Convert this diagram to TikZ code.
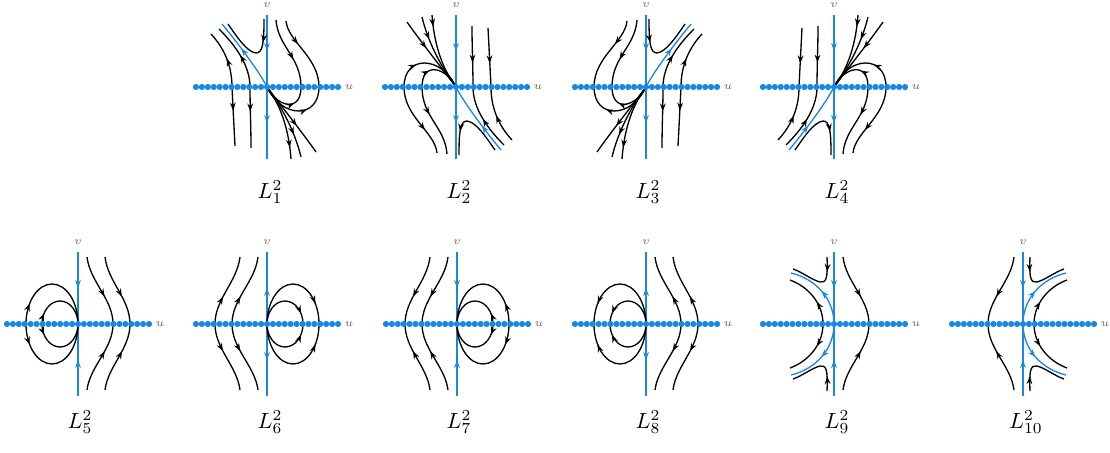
\documentclass[tikz,border=0pt]{standalone}
\usetikzlibrary{arrows.meta, decorations.markings}
\definecolor{flowblue}{RGB}{24,136,229}

% arrow put on a trajectory; \fliptips turns the flow round
\newcommand{\flowtip}{\arrow{Stealth[length=3.6pt, width=2.6pt]}}
\newcommand{\fliptips}{\renewcommand{\flowtip}{\arrowreversed{Stealth[length=3.6pt, width=2.6pt]}}}

\tikzset{
    orbit/.style={black, line width=0.6pt, decoration={markings, mark=at position #1 with {\flowtip}}, postaction={decorate}},
    orbit/.default=0.5,
    sep/.style={flowblue, line width=0.6pt, decoration={markings, mark=at position #1 with {\flowtip}}, postaction={decorate}},
    sep/.default=0.5,
    vaxis/.style={flowblue, line width=0.6pt, decoration={markings, mark=at position 0.5 with {\flowtip}}, postaction={decorate}},
    eqdot/.style={fill=flowblue},
    axislabel/.style={font=\tiny, text=black!60, inner sep=0},
    caption/.style={anchor=base, inner sep=0},
    }

% top row pattern (L_1^2)
\newcommand{\phaseone}{%
  \draw[vaxis] (0,72) -- (0,0);
  \draw[vaxis] (0,0) -- (0,-72);
  \draw[sep=0.6] (0,0) .. controls (-8,16) and (-30,45) .. (-45,63);
  \draw[orbit=0.3] (-3,68) .. controls (-3,45) and (-4,34) .. (-11,34) .. controls (-20,35) and (-30,50) .. (-39,63);
  \draw[orbit=0.5] (-35,0) .. controls (-35,20) and (-42,38) .. (-56,53);
  \draw[orbit=0.4] (-35,0) .. controls (-34,-20) and (-33,-40) .. (-32,-59);
  \draw[orbit=0.5] (-17,0) .. controls (-17,22) and (-32,42) .. (-48,58);
  \draw[orbit=0.4] (-17,0) .. controls (-17,-20) and (-16,-40) .. (-16,-61);
  \draw[orbit=0.6] (9,67) .. controls (11,40) and (34,30) .. (34,0);
  \draw[orbit=0.35] (19,66) .. controls (21,45) and (52,30) .. (52,0);
  \draw[orbit=0.65] (0,0) .. controls (10,-20) and (34,-26) .. (34,0);
  \draw[orbit=0.65] (0,0) .. controls (15,-32) and (52,-32) .. (52,0);
  \draw[orbit=0.85] (0,0) .. controls (15,-20) and (22,-45) .. (24,-72);
  \draw[orbit=0.7] (0,0) .. controls (15,-20) and (28,-45) .. (34,-70);
  \draw[orbit=0.6] (0,0) .. controls (15,-20) and (35,-45) .. (49,-65);
}

% bottom row, loops (L_5^2)
\newcommand{\phasefive}{%
  \draw[vaxis] (0,72) -- (0,0);
  \draw[vaxis] (0,-72) -- (0,0);
  \draw[orbit=0.2] (-52,0) arc[start angle=180, end angle=0, x radius=26, y radius=40];
  \draw[orbit=0.2] (-52,0) arc[start angle=180, end angle=360, x radius=26, y radius=40];
  \draw[orbit=0.17] (-36,0) arc[start angle=180, end angle=0, x radius=18, y radius=23];
  \draw[orbit=0.17] (-36,0) arc[start angle=180, end angle=360, x radius=18, y radius=23];
  \draw[orbit=0.6] (9,67) .. controls (12,42) and (35,25) .. (35,0);
  \draw[orbit=0.6] (9,-66) .. controls (12,-42) and (35,-25) .. (35,0);
  \draw[orbit=0.6] (27,67) .. controls (30,42) and (52,25) .. (52,0);
  \draw[orbit=0.6] (27,-66) .. controls (30,-42) and (52,-25) .. (52,0);
}

% bottom row, separatrix arcs (L_9^2)
\newcommand{\phasenine}{%
  \draw[vaxis] (0,72) -- (0,0);
  \draw[vaxis] (0,-72) -- (0,0);
  \draw[sep=0.5] (0,0) .. controls (0,25) and (-18,45) .. (-43,51);
  \draw[sep=0.5] (0,0) .. controls (0,-25) and (-18,-45) .. (-43,-51);
  \draw[orbit=0.4] (-11,0) .. controls (-11,20) and (-25,37) .. (-44,44);
  \draw[orbit=0.4] (-11,0) .. controls (-11,-20) and (-25,-37) .. (-44,-44);
  \draw[orbit=0.25] (-7,67) .. controls (-6,45) and (-8,41) .. (-14,42) .. controls (-22,44) and (-32,52) .. (-41,55);
  \draw[orbit=0.25] (-7,-67) .. controls (-6,-45) and (-8,-41) .. (-14,-42) .. controls (-22,-44) and (-32,-52) .. (-41,-55);
  \draw[orbit=0.6] (9,67) .. controls (12,42) and (35,25) .. (35,0);
  \draw[orbit=0.6] (9,-66) .. controls (12,-42) and (35,-25) .. (35,0);
}

\newcommand{\panel}[4]{% #1 = x, #2 = y of centre, #3 = transform, #4 = curves
  \begin{scope}[shift={(#1,#2)}, #3]
    #4
  \end{scope}
  \begin{scope}[shift={(#1,#2)}]
    \foreach \k in {-12,...,12}
      \fill[eqdot] (\k*5.92,0) circle (3.1);
    \node[axislabel] at (82,0) {$u$};
    \node[axislabel] at (0,82) {$v$};
  \end{scope}
}

\begin{document}
\begin{tikzpicture}[x=0.016cm, y=0.016cm]
    \useasboundingbox (0,0) rectangle (1110,452);

    % top row
    \panel{267}{365}{}{\phaseone}
    \panel{456}{365}{rotate=180}{\fliptips\phaseone}
    \panel{646}{365}{xscale=-1}{\phaseone}
    \panel{834}{365}{yscale=-1}{\fliptips\phaseone}

    % bottom row
    \panel{78}{128}{}{\phasefive}
    \panel{267}{128}{xscale=-1}{\fliptips\phasefive}
    \panel{457}{128}{xscale=-1}{\phasefive}
    \panel{646}{128}{}{\fliptips\phasefive}
    \panel{834}{128}{}{\phasenine}
    \panel{1023}{128}{xscale=-1}{\phasenine}

    % names
    \node[caption] (L1) at (270,254) {$L_1^2$};
    \node[caption] (L2) at (459,254) {$L_2^2$};
    \node[caption] (L3) at (648,254) {$L_3^2$};
    \node[caption] (L4) at (837,254) {$L_4^2$};
    \node[caption] (L5) at (80,24) {$L_5^2$};
    \node[caption] (L6) at (270,24) {$L_6^2$};
    \node[caption] (L7) at (459,24) {$L_7^2$};
    \node[caption] (L8) at (648,24) {$L_8^2$};
    \node[caption] (L9) at (837,24) {$L_9^2$};
    \node[caption] (L10) at (1026,24) {$L_{10}^2$};
\end{tikzpicture}
\end{document}
